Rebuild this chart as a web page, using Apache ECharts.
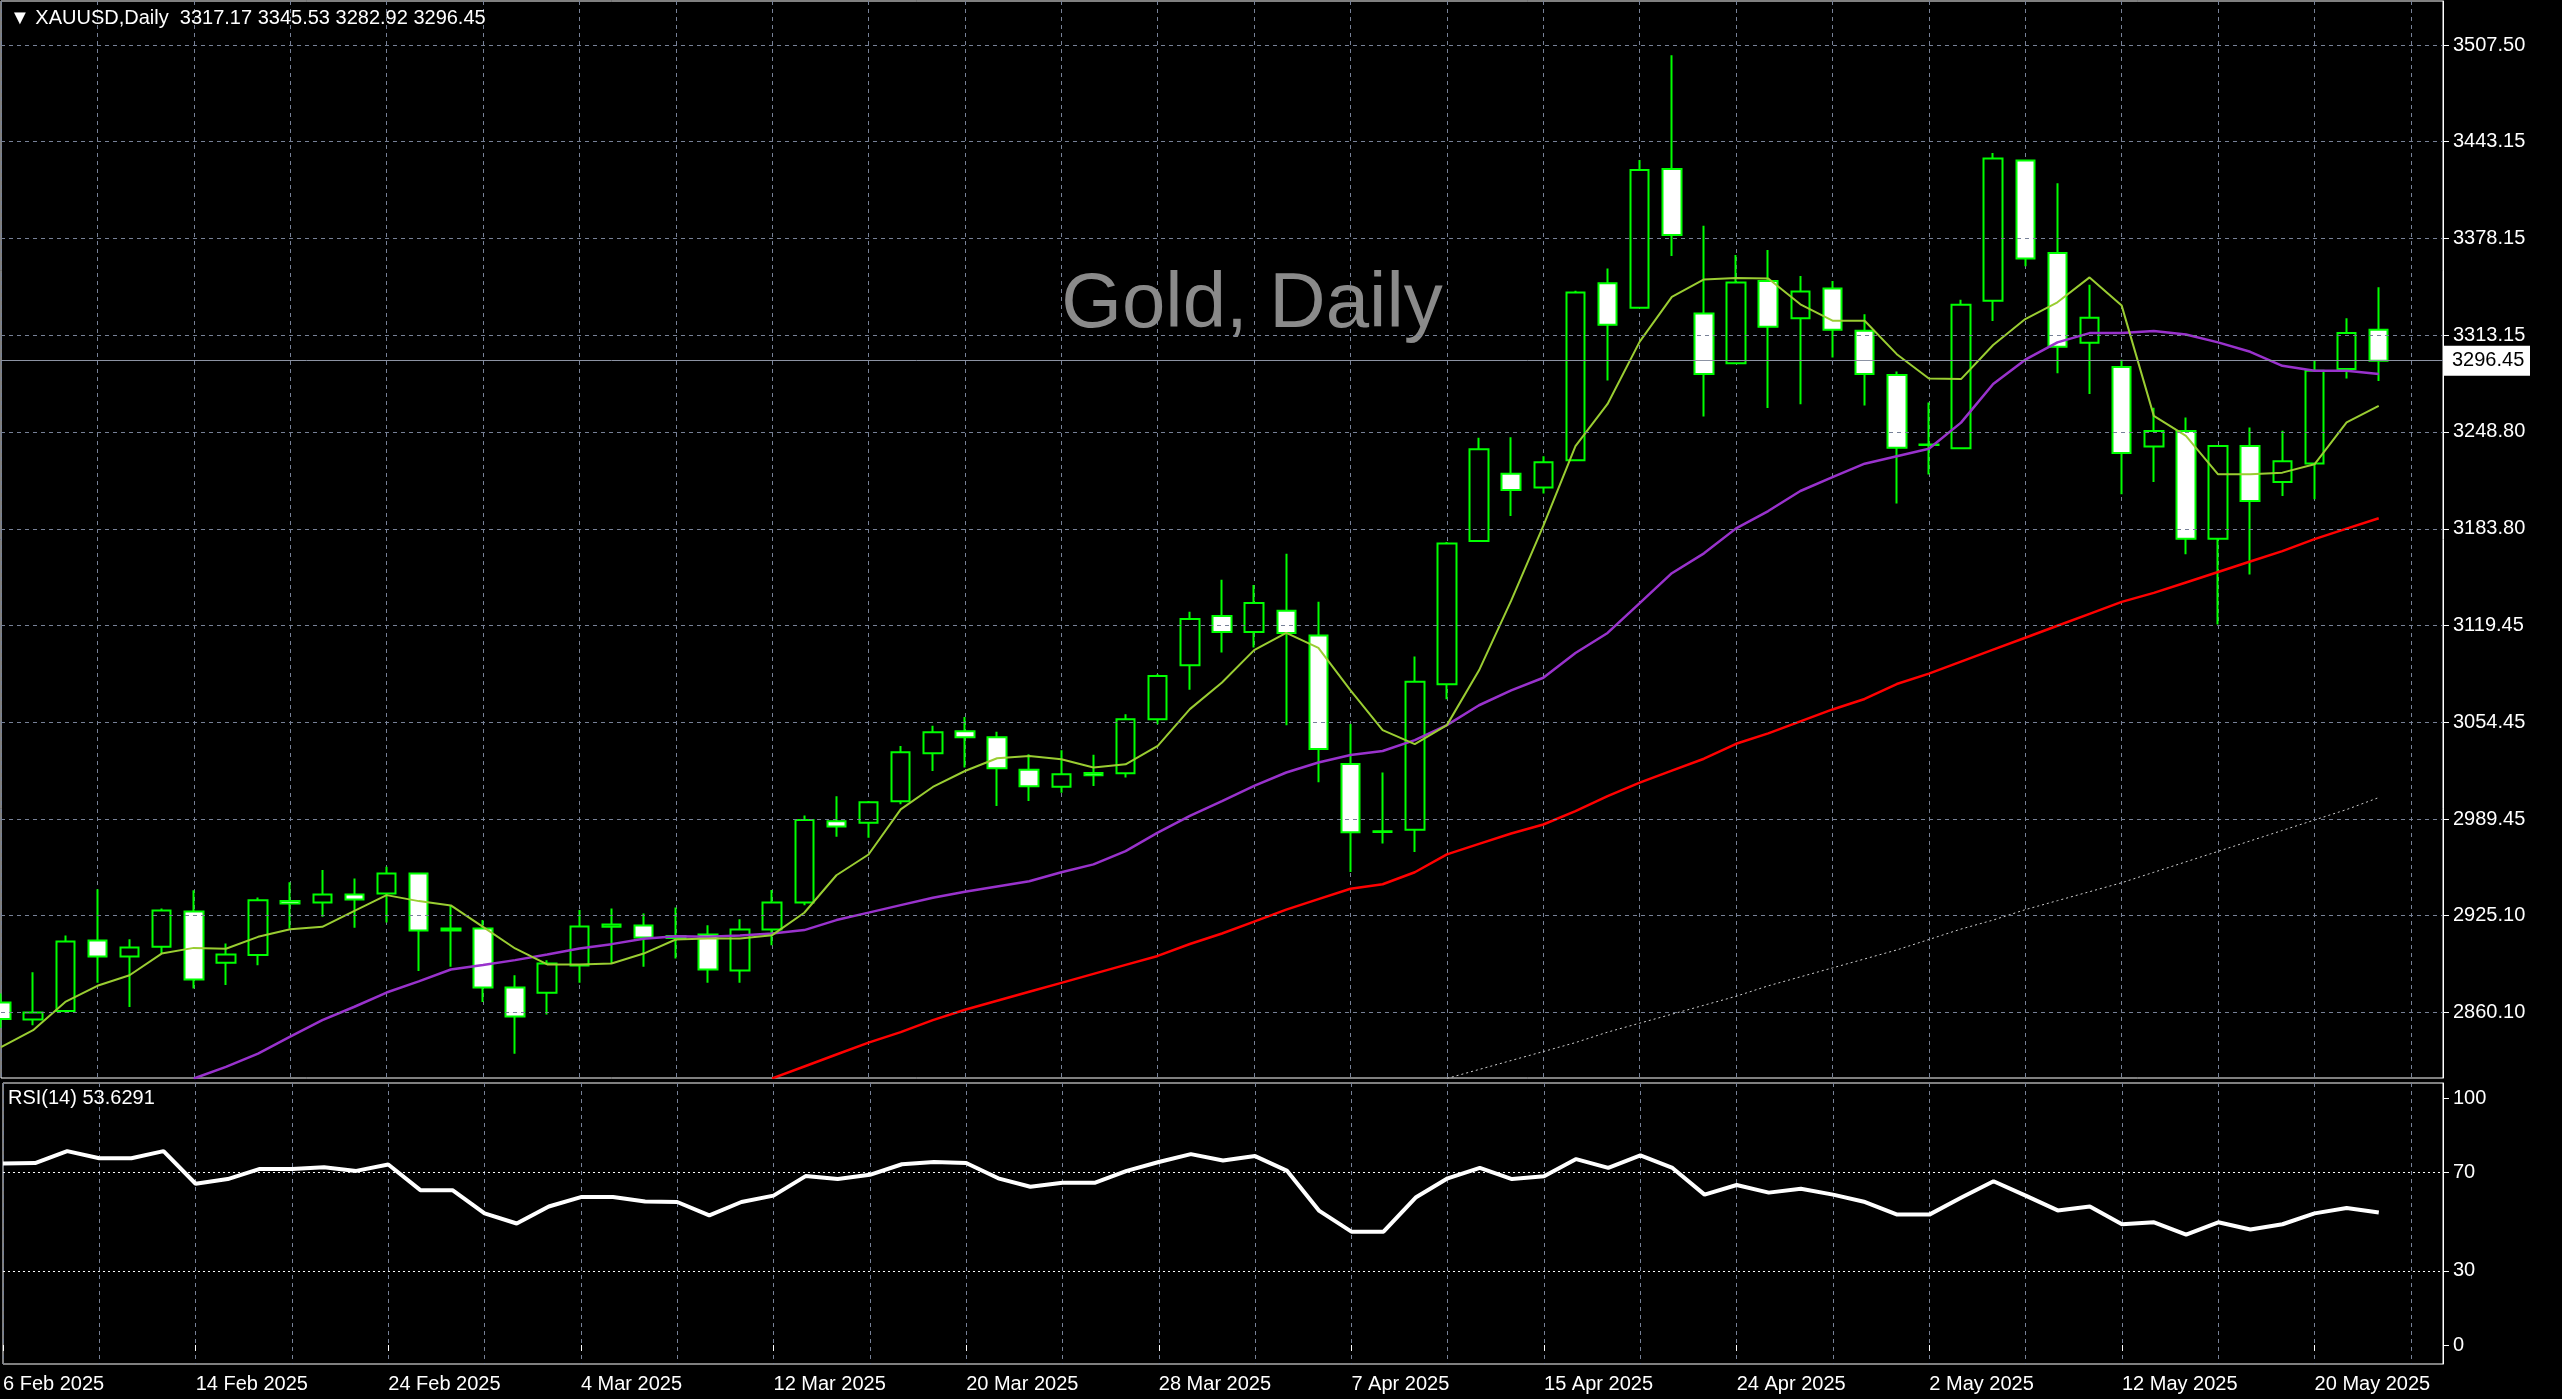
<!DOCTYPE html>
<html>
<head>
<meta charset="utf-8">
<style>html,body{margin:0;padding:0;background:#000}#chart{width:2562px;height:1399px}</style>
<script src="https://cdn.jsdelivr.net/npm/echarts@6/dist/echarts.min.js"></script>
</head>
<body>
<div id="chart"></div>
<script>
// trading days
var dates = [
  '6 Feb 2025','7 Feb 2025','10 Feb 2025','11 Feb 2025','12 Feb 2025','13 Feb 2025','14 Feb 2025','17 Feb 2025','18 Feb 2025','19 Feb 2025',
  '20 Feb 2025','21 Feb 2025','24 Feb 2025','25 Feb 2025','26 Feb 2025','27 Feb 2025','28 Feb 2025','3 Mar 2025','4 Mar 2025','5 Mar 2025',
  '6 Mar 2025','7 Mar 2025','10 Mar 2025','11 Mar 2025','12 Mar 2025','13 Mar 2025','14 Mar 2025','17 Mar 2025','18 Mar 2025','19 Mar 2025',
  '20 Mar 2025','21 Mar 2025','24 Mar 2025','25 Mar 2025','26 Mar 2025','27 Mar 2025','28 Mar 2025','31 Mar 2025','1 Apr 2025','2 Apr 2025',
  '3 Apr 2025','4 Apr 2025','7 Apr 2025','8 Apr 2025','9 Apr 2025','10 Apr 2025','11 Apr 2025','14 Apr 2025','15 Apr 2025','16 Apr 2025',
  '17 Apr 2025','21 Apr 2025','22 Apr 2025','23 Apr 2025','24 Apr 2025','25 Apr 2025','28 Apr 2025','29 Apr 2025','30 Apr 2025','1 May 2025',
  '2 May 2025','5 May 2025','6 May 2025','7 May 2025','8 May 2025','9 May 2025','12 May 2025','13 May 2025','14 May 2025','15 May 2025',
  '16 May 2025','19 May 2025','20 May 2025','21 May 2025','22 May 2025'
];
var opens = [2866.8,2855.4,2861.2,2908.3,2897.6,2904.1,2927.8,2893.4,2898.7,2934.7,
  2933.8,2939.2,2939.8,2953.2,2916.4,2916.4,2876.8,2873.3,2891.6,2917.5,
  2918.4,2911.4,2912.4,2888.2,2915.7,2933.8,2988.1,2987.2,3001.5,3033.6,
  3048.4,3044.4,3022.7,3011.3,3020.5,3020.3,3056.4,3092.6,3125.5,3114.8,
  3129.1,3112.5,3026.5,2981.0,2982.5,3079.8,3175.8,3220.8,3211.5,3229.8,
  3348.2,3331.8,3424.8,3328.1,3294.8,3349.8,3324.8,3344.8,3316.5,3286.8,
  3240.0,3237.9,3336.6,3430.4,3368.6,3308.5,3292.2,3239.0,3249.3,3177.3,
  3239.4,3215.3,3227.6,3290.8,3317.17];
var highs = [2872.8,2887.1,2911.7,2942.7,2909.2,2929.8,2941.9,2906.3,2937.2,2947.4,
  2955.5,2949.9,2957.7,2953.9,2931.8,2922.0,2885.1,2895.2,2928.7,2929.8,
  2926.4,2930.5,2918.6,2922.6,2942.1,2992.0,3004.9,3001.7,3038.6,3052.0,
  3058.0,3048.0,3033.0,3035.7,3032.6,3059.8,3086.6,3128.4,3149.8,3146.3,
  3167.2,3135.1,3053.2,3020.8,3098.5,3175.0,3244.8,3245.2,3232.5,3343.2,
  3358.1,3430.8,3500.9,3386.8,3367.2,3370.5,3353.1,3349.8,3327.5,3289.2,
  3268.5,3337.3,3435.4,3431.0,3415.2,3347.3,3297.1,3264.9,3258.4,3240.0,
  3251.7,3249.5,3296.4,3324.8,3345.53];
var lows = [2850.0,2851.6,2859.9,2880.0,2863.9,2899.6,2876.2,2878.6,2891.8,2916.4,
  2924.2,2916.8,2920.4,2888.0,2890.7,2867.2,2832.6,2858.8,2880.0,2892.9,
  2890.7,2896.3,2880.0,2880.0,2905.2,2932.0,2977.8,2977.1,2999.5,3021.8,
  3024.1,2998.4,3001.7,3007.3,3011.8,3017.4,3053.1,3076.1,3101.1,3104.5,
  3052.5,3014.2,2954.2,2973.2,2967.5,3069.8,3175.1,3192.5,3207.5,3229.2,
  3283.2,3331.8,3366.5,3259.1,3294.8,3264.8,3267.2,3298.5,3266.5,3200.8,
  3220.2,3237.2,3323.0,3359.6,3288.1,3274.1,3207.0,3215.3,3166.8,3119.9,
  3153.4,3205.9,3203.7,3284.6,3282.92];
var closes = [2855.8,2860.1,2907.7,2897.6,2903.7,2928.5,2882.2,2899.0,2935.2,2933.1,
  2939.2,2935.8,2953.2,2915.0,2915.0,2876.8,2857.4,2892.9,2917.7,2919.1,
  2910.4,2910.0,2888.9,2915.7,2933.8,2989.0,2984.7,3000.8,3034.3,3047.7,
  3044.4,3023.6,3011.6,3019.6,3019.0,3056.4,3085.3,3123.5,3114.8,3134.2,
  3114.1,3036.5,2980.8,2981.5,3081.5,3174.1,3237.2,3209.8,3228.5,3342.1,
  3320.5,3424.1,3380.5,3287.5,3348.8,3319.2,3342.8,3317.2,3287.5,3238.2,
  3240.4,3333.9,3431.8,3364.8,3305.8,3325.2,3234.7,3249.3,3177.3,3239.4,
  3202.6,3229.2,3289.7,3315.0,3296.45];
// moving averages
var maFast = [2837,2848.3,2867.2,2878,2885.1,2899.6,2903.4,2902.8,2910.8,2915.9,
  2917.5,2928.2,2938.7,2934.7,2931.8,2917.5,2903,2892.3,2892.3,2892.9,
  2899.6,2909,2909.7,2909.7,2911.9,2926.9,2952,2965.9,2996.1,3011.1,
  3021.8,3030.3,3031.9,3029.6,3024.1,3026.3,3038.6,3063.2,3081,3102.7,
  3114.2,3104.2,3075.8,3049.2,3039.8,3052.5,3089.2,3135.8,3185.8,3239.2,
  3267.5,3309.2,3339.2,3350.8,3351.8,3351.5,3334.2,3323.2,3323.2,3300.8,
  3284.5,3284.1,3306.9,3324.3,3335.5,3352.2,3333.3,3259.5,3246.1,3220.4,
  3220.4,3221.5,3227.1,3255.1,3266.2];
var maMid = [null,null,null,null,null,null,2816,2823.7,2832.6,2844,
  2855,2864,2873.5,2881,2888.9,2892,2895.2,2899,2903,2905.9,
  2909.5,2911.2,2910.8,2911.7,2913,2915.3,2922,2927,2932,2937,
  2941,2944.5,2948,2954,2959.3,2968.2,2980.5,2991.7,3001.7,3011.8,
  3020.8,3027.5,3032.5,3035.2,3042.5,3052.5,3065.8,3075.8,3084.2,3100.8,
  3114.2,3134.2,3154.2,3167.5,3184.2,3195.8,3209.2,3218.5,3227.5,3232.5,
  3237.5,3255,3280.8,3297.1,3308.7,3314.9,3314.9,3316.3,3314,3308.7,
  3302.4,3293,3289.7,3289.7,3287.5];
var maSlow = [null,null,null,null,null,null,null,null,null,null,
  null,null,null,null,null,null,null,null,null,null,
  null,null,null,null,2816,2824,2832,2840,2847,2855,
  2862,2868,2874,2880,2886,2892,2898,2906,2913,2921,
  2929,2936,2943,2946,2954,2966,2973,2980,2986,2995,
  3005,3014,3022,3030,3040,3047,3055,3063,3070,3080,
  3087,3095,3103,3111,3119,3127,3135,3141,3148,3155,
  3162,3169,3177,3184,3191];
var maLong = [null,null,null,null,null,null,null,null,null,null,
  null,null,null,null,null,null,null,null,null,null,
  null,null,null,null,null,null,null,null,null,null,
  null,null,null,null,null,null,null,null,null,null,
  null,null,null,null,null,2816,2822,2828,2834,2840,
  2847,2853,2859,2865,2871,2878,2884,2890,2896,2902,
  2909,2916,2922,2929,2935,2941,2947,2954,2961,2968,
  2975,2982,2989,2996,3004];
var rsi = [73.5,73.7,78.5,75.6,75.6,78.5,65.3,67.2,71.3,71.3,
  72.0,70.5,73.1,62.7,62.7,53.3,49.2,56.1,59.9,59.9,
  58.1,57.9,52.5,57.9,60.5,68.4,67.2,68.9,73.2,74.1,
  73.7,67.5,64.1,65.7,65.7,70.5,74.1,77.3,74.7,76.5,
  70.5,54.3,45.9,45.9,59.7,67.5,71.7,67.2,68.3,75.3,
  71.7,76.8,71.7,60.9,64.8,61.7,63.3,60.9,57.9,52.8,
  52.8,59.7,66.3,60.5,54.5,56.1,48.9,49.7,44.7,49.7,
  46.8,48.9,53.3,55.5,53.63];
var priceTicks = [3507.50,3443.15,3378.15,3313.15,3248.80,3183.80,3119.45,3054.45,2989.45,2925.10,2860.10];
var rsiTicks = [100,70,30,0];
var lastPrice = 3296.45;

var chart = echarts.init(document.getElementById('chart'));
var gridColor = '#778197';
var font = 'Liberation Sans, DejaVu Sans, sans-serif';
var kdata = opens.map(function (o, i) { return [o, closes[i], lows[i], highs[i]]; });
var xBase = {
  type: 'category', data: dates, boundaryGap: false, min: -0.25, max: 76.2,
  axisLine: { show: false }, axisTick: { show: false }, axisLabel: { show: false },
  splitLine: { show: true, interval: function (i) { return i % 3 === 0; },
    lineStyle: { color: gridColor, type: [4, 4], width: 1 } }
};

var option = {
  backgroundColor: '#000',
  animation: false,
  grid: [
    { left: 1, right: 119, top: 1, height: 1077, show: true, borderColor: '#fff', borderWidth: 1, backgroundColor: '#000' },
    { left: 1, right: 119, top: 1083, height: 281, show: true, borderColor: '#fff', borderWidth: 1, backgroundColor: '#000' }
  ],
  xAxis: [
    Object.assign({ gridIndex: 0 }, xBase),
    Object.assign({ gridIndex: 1 }, xBase, {
      axisLabel: { show: true, interval: function (i) { return i % 6 === 0; }, align: 'left',
        color: '#fff', fontFamily: font, fontSize: 20, margin: 10 },
      axisTick: { show: true, interval: function (i) { return i % 6 === 0; }, length: 6, lineStyle: { color: '#fff' } }
    })
  ],
  yAxis: [
    { gridIndex: 0, type: 'value', position: 'right', min: 2816.3, max: 3537.2, scale: true,
      axisLine: { show: true, lineStyle: { color: '#fff' } },
      axisTick: { show: true, customValues: priceTicks, length: 6, lineStyle: { color: '#fff' } },
      axisLabel: { customValues: priceTicks, color: '#fff', fontFamily: font, fontSize: 20, margin: 10,
        formatter: function (v) { return v.toFixed(2); } },
      splitLine: { show: false } },
    { gridIndex: 1, type: 'value', position: 'right', min: -7.7, max: 106.1,
      axisLine: { show: true, lineStyle: { color: '#fff' } },
      axisTick: { show: true, customValues: rsiTicks, length: 6, lineStyle: { color: '#fff' } },
      axisLabel: { customValues: rsiTicks, color: '#fff', fontFamily: font, fontSize: 20, margin: 10 },
      splitLine: { show: false } }
  ],
  series: [
    { type: 'line', xAxisIndex: 0, yAxisIndex: 0, data: [], silent: true,
      markLine: { silent: true, symbol: 'none', label: { show: false },
        lineStyle: { color: gridColor, type: [4, 4], width: 1 },
        data: priceTicks.map(function (v) { return { yAxis: v }; }) } },
    { type: 'line', xAxisIndex: 0, yAxisIndex: 0, data: [], silent: true,
      markLine: { silent: true, symbol: 'none', label: { show: false },
        lineStyle: { color: '#8c93a3', type: 'solid', width: 1 },
        data: [{ yAxis: lastPrice }] } },
    { name: 'XAUUSD', type: 'candlestick', xAxisIndex: 0, yAxisIndex: 0, data: kdata, barWidth: 19, z: 3,
      itemStyle: { color: '#000', color0: '#fff', borderColor: '#00ff00', borderColor0: '#00ff00', borderWidth: 2 } },
    { type: 'line', xAxisIndex: 0, yAxisIndex: 0, data: maLong, showSymbol: false, z: 4,
      lineStyle: { color: '#d0d0d0', width: 1, type: [2, 3] } },
    { type: 'line', xAxisIndex: 0, yAxisIndex: 0, data: maSlow, showSymbol: false, z: 4,
      lineStyle: { color: '#ff0000', width: 2.5 } },
    { type: 'line', xAxisIndex: 0, yAxisIndex: 0, data: maMid, showSymbol: false, z: 4,
      lineStyle: { color: '#9932cc', width: 2.5 } },
    { type: 'line', xAxisIndex: 0, yAxisIndex: 0, data: maFast, showSymbol: false, z: 4,
      lineStyle: { color: '#9acd32', width: 2 } },
    { type: 'line', xAxisIndex: 1, yAxisIndex: 1, data: rsi, showSymbol: false,
      lineStyle: { color: '#fff', width: 4 },
      markLine: { silent: true, symbol: 'none', label: { show: false },
        lineStyle: { color: '#fff', type: [2, 3], width: 1 },
        data: [{ yAxis: 70 }, { yAxis: 30 }] } }
  ],
  graphic: [
    { type: 'text', left: 10, top: 8, z: 20, style: { text: '\u25BC XAUUSD,Daily  3317.17 3345.53 3282.92 3296.45',
      fill: '#fff', font: '20px ' + font } },
    { type: 'text', x: 1252, y: 305, z: 1, style: { text: 'Gold, Daily', fill: '#8a8a8a',
      font: '78px ' + font, align: 'center', verticalAlign: 'middle' } },
    { type: 'text', left: 8, top: 1088, z: 20, style: { text: 'RSI(14) 53.6291', fill: '#fff', font: '20px ' + font } }
  ]
};
chart.setOption(option);

// current price box on the price axis
var py = chart.convertToPixel({ yAxisIndex: 0 }, lastPrice);
chart.setOption({ graphic: option.graphic.concat([
  { type: 'rect', z: 10, shape: { x: 2444, y: py - 15, width: 86, height: 30 }, style: { fill: '#fff' } },
  { type: 'text', z: 11, x: 2452, y: py, style: { text: lastPrice.toFixed(2), fill: '#000',
    font: '20px ' + font, verticalAlign: 'middle' } }
]) });
</script>
</body>
</html>
